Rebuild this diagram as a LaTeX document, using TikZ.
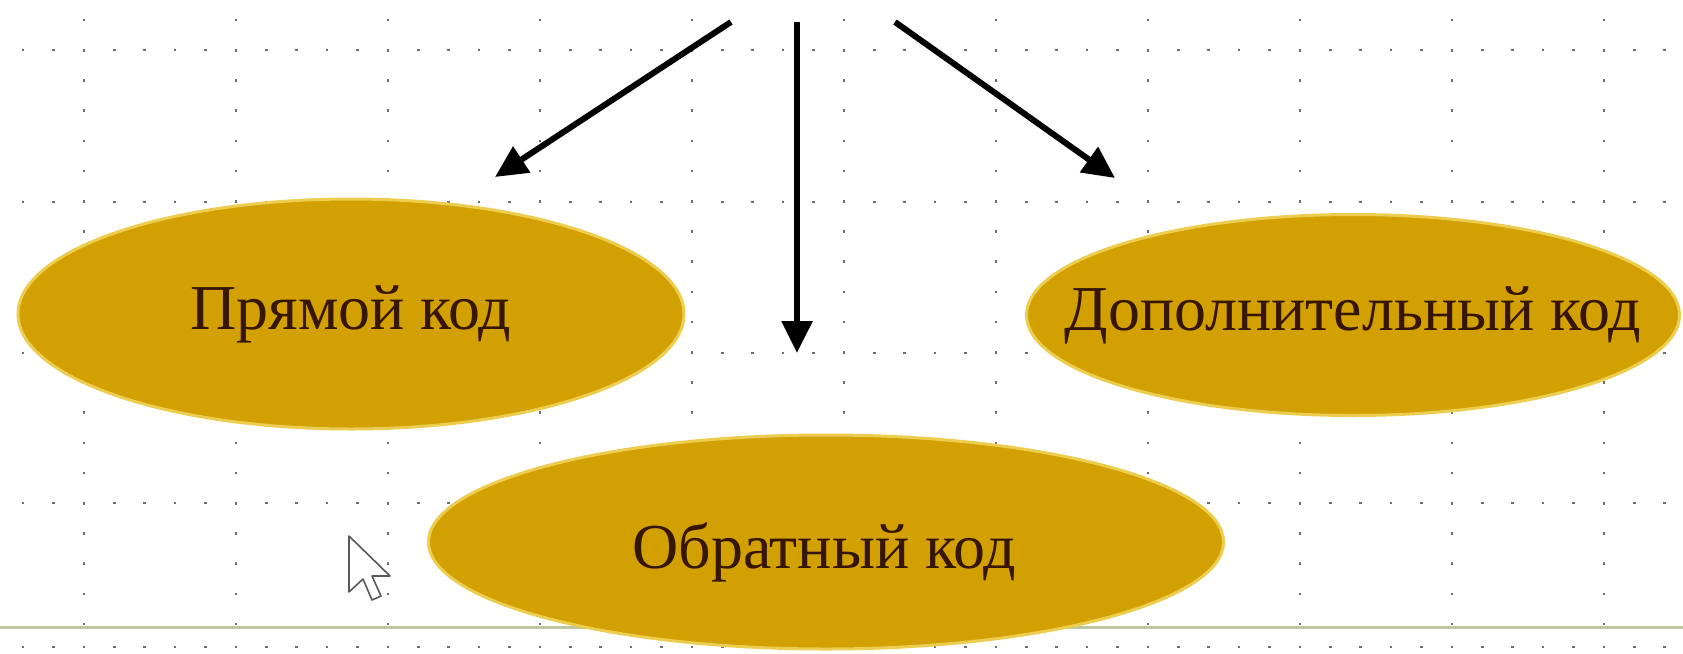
\documentclass[tikz,border=0pt]{standalone}
\usepackage{fontspec}
\setmainfont{Liberation Serif}
\usetikzlibrary{arrows.meta,shapes.geometric}
\definecolor{gold}{RGB}{210,160,0}
\definecolor{goldrim}{RGB}{236,205,80}
\definecolor{txtbrown}{RGB}{55,22,0}
\definecolor{griddot}{RGB}{110,110,110}
\definecolor{bottomrule}{RGB}{190,198,160}
\begin{document}
\begin{tikzpicture}[x=1pt,y=-1pt,
  codeellipse/.style={ellipse, fill=gold, draw=goldrim, line width=3pt, inner sep=0pt},
  codetext/.style={text=txtbrown, inner sep=0pt, font=\fontsize{64}{72}\selectfont},
  arrowline/.style={line width=6pt, -{Triangle[length=32pt,width=30pt]}},
  gdot/.style={fill=griddot}]
\useasboundingbox (0,0) rectangle (1683,653);
\fill[white] (0,0) rectangle (1683,653);
% grid: vertical dotted lines
\foreach \k in {0,...,10} {
  \foreach \j in {0,...,20} {
    \fill[gdot] ({84+152*\k-1.3},{20+30.2*\j-1.3}) rectangle ++(2.6,2.6);
  }
}
% grid: horizontal dotted lines
\foreach \yy in {50,202,353,503,647} {
  \foreach \j in {0,...,54} {
    \fill[gdot] ({23+30.4*\j-1.3},{\yy-1.3}) rectangle ++(2.6,2.6);
  }
}
% bottom solid line
\draw[draw=bottomrule, line width=3pt] (0,627) -- (1683,627);
% ellipses
\node[codeellipse, minimum width=666pt, minimum height=230pt] (pryamoy) at (351,314) {};
\node[codetext] (pryamoytext) at (pryamoy.center) {Прямой код};
\node[codeellipse, minimum width=653pt, minimum height=201pt] (dop) at (1353,315) {};
\node[codetext] (doptext) at (dop.center) {Дополнительный код};
\node[codeellipse, minimum width=795pt, minimum height=214pt] (obr) at (826,542) {};
\node[codetext] (obrtext) at (824,552) {Обратный код};
% arrows
\coordinate (srcA) at (731,22);
\coordinate (tipA) at (495,177);
\coordinate (srcB) at (797,22);
\coordinate (tipB) at (797,353);
\coordinate (srcC) at (895,22);
\coordinate (tipC) at (1115,178);
\draw[arrowline] (srcA) -- (tipA);
\draw[arrowline] (srcB) -- (tipB);
\draw[arrowline] (srcC) -- (tipC);
% mouse cursor
\draw[gray!70!black, fill=white, line width=1.6pt, line join=round]
  (349,536) -- ++(0,56) -- ++(14,-13) -- ++(9,21) -- ++(9,-4) -- ++(-9,-20) -- ++(18,0) -- cycle;
\end{tikzpicture}
\end{document}
